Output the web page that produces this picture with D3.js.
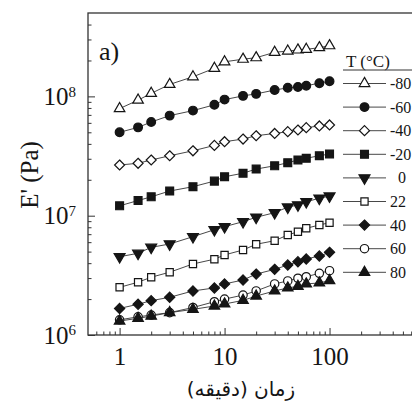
<!DOCTYPE html>
<html>
<head>
<meta charset="utf-8">
<script src="https://cdn.jsdelivr.net/npm/d3@7"></script>
<style>
  html, body { margin: 0; padding: 0; background: #fff; overflow: hidden; }
  svg { display: block; }
</style>
</head>
<body>
<div id="plot"></div>
<script>
(() => {
'use strict';

// time in minutes (x) and E' in Pa for each temperature
const times = [1, 1.5, 2, 3, 5, 8, 10, 15, 20, 30, 40, 50, 60, 80, 100];

const temps = ['-80', '-60', '-40', '-20', '0', '22', '40', '60', '80'];

const eMinus80 = [7.9e7, 9.3e7, 1.06e8, 1.26e8, 1.46e8, 1.72e8, 1.95e8, 2.05e8, 2.11e8, 2.34e8, 2.40e8, 2.45e8, 2.48e8, 2.56e8, 2.66e8];
const eMinus60 = [5.0e7, 5.5e7, 6.1e7, 6.9e7, 7.6e7, 8.5e7, 9.4e7, 1.01e8, 1.05e8, 1.13e8, 1.18e8, 1.20e8, 1.23e8, 1.29e8, 1.34e8];
const eMinus40 = [2.66e7, 2.75e7, 2.93e7, 3.18e7, 3.5e7, 3.88e7, 4.17e7, 4.39e7, 4.68e7, 4.89e7, 5.06e7, 5.23e7, 5.47e7, 5.65e7, 5.76e7];
const eMinus20 = [1.21e7, 1.34e7, 1.44e7, 1.61e7, 1.75e7, 1.95e7, 2.12e7, 2.27e7, 2.46e7, 2.62e7, 2.78e7, 2.93e7, 3.03e7, 3.18e7, 3.29e7];
const e0 = [4.53e6, 4.84e6, 5.43e6, 5.79e6, 6.67e6, 7.63e6, 8.09e6, 8.91e6, 9.7e6, 1.06e7, 1.18e7, 1.23e7, 1.31e7, 1.40e7, 1.46e7];
const e22 = [2.51e6, 2.77e6, 3.05e6, 3.36e6, 3.94e6, 4.32e6, 4.69e6, 5.16e6, 5.76e6, 6.17e6, 6.89e6, 7.34e6, 7.84e6, 8.36e6, 8.74e6];
const e40 = [1.67e6, 1.81e6, 1.94e6, 2.07e6, 2.34e6, 2.48e6, 2.68e6, 2.89e6, 3.24e6, 3.55e6, 3.86e6, 4.11e6, 4.34e6, 4.59e6, 4.93e6];
const e60 = [1.34e6, 1.42e6, 1.47e6, 1.54e6, 1.70e6, 1.90e6, 2.0e6, 2.16e6, 2.34e6, 2.68e6, 2.84e6, 2.99e6, 3.08e6, 3.29e6, 3.46e6];
const e80 = [1.31e6, 1.38e6, 1.44e6, 1.54e6, 1.64e6, 1.75e6, 1.82e6, 1.95e6, 2.12e6, 2.34e6, 2.48e6, 2.56e6, 2.68e6, 2.73e6, 2.86e6];

const seriesValues = [eMinus80, eMinus60, eMinus40, eMinus20, e0, e22, e40, e60, e80];

const xTickValues = [1, 10, 100, 1000];
const yTickValues = [1e6, 1e7, 1e8];
const yTickExp = ['6', '7', '8'];

const WIDTH = 412;
const HEIGHT = 408;
const LEFT = 88;
const BOTTOM = 335;
const INK = '#151515';
const SERIF = '"Liberation Serif", "DejaVu Serif", serif';

// marker shapes
const diamond = {
  draw(ctx, size) {
    const r = Math.sqrt(size / 2);
    ctx.moveTo(0, -r); ctx.lineTo(r, 0); ctx.lineTo(0, r); ctx.lineTo(-r, 0); ctx.closePath();
  }
};
const markers = [
  { type: d3.symbolTriangle, fill: false, size: 48, rot: 0 },
  { type: d3.symbolCircle, fill: true, size: 60, rot: 0 },
  { type: diamond, fill: false, size: 50, rot: 0 },
  { type: d3.symbolSquare, fill: true, size: 62, rot: 0 },
  { type: d3.symbolTriangle, fill: true, size: 52, rot: 180 },
  { type: d3.symbolSquare, fill: false, size: 52, rot: 0 },
  { type: diamond, fill: true, size: 52, rot: 0 },
  { type: d3.symbolCircle, fill: false, size: 55, rot: 0 },
  { type: d3.symbolTriangle, fill: true, size: 48, rot: 0 }
];

const SVG = d3.select('#plot')
  .append('svg')
  .attr('width', WIDTH)
  .attr('height', HEIGHT)
  .style('font-family', SERIF);

const xScale = d3.scaleLog().domain([0.5, 1000]).range([LEFT, 434.5]);
const yScale = d3.scaleLog().domain([1e6, 5e8]).range([BOTTOM, 13]);

const minorOf = (lo, hi) => {
  const out = [];
  for (let p = lo; p < hi; p *= 10) {
    for (let k = 2; k < 10; k++) out.push(p * k);
  }
  return out;
};
const xMinor = minorOf(0.1, 1000).filter(v => v > 0.5 && v < 1000);
const yMinor = minorOf(1e6, 1e9).filter(v => v < 5e8);

// frame
SVG.append('rect')
  .attr('x', LEFT)
  .attr('y', yScale.range()[1])
  .attr('width', xScale.range()[1] - LEFT)
  .attr('height', BOTTOM - yScale.range()[1])
  .attr('fill', 'none')
  .attr('stroke', '#333')
  .attr('stroke-width', 1.3);

const styleAxis = (g) => {
  g.attr('font-family', null);
  g.select('.domain').remove();
  g.selectAll('line').attr('stroke', '#333').attr('stroke-width', 1);
};

// minor ticks
SVG.append('g')
  .attr('transform', `translate(0, ${BOTTOM})`)
  .call(d3.axisBottom(xScale).tickValues(xMinor).tickSize(-3.5).tickFormat(''))
  .call(styleAxis);
SVG.append('g')
  .attr('transform', `translate(${LEFT}, 0)`)
  .call(d3.axisLeft(yScale).tickValues(yMinor).tickSize(-3.5).tickFormat(''))
  .call(styleAxis);

// major ticks + labels
SVG.append('g')
  .attr('id', 'x-axis')
  .attr('transform', `translate(0, ${BOTTOM})`)
  .call(d3.axisBottom(xScale).tickValues(xTickValues).tickSize(-7).tickPadding(12)
    .tickFormat(d => d < 1000 ? String(d) : ''))
  .call(styleAxis)
  .selectAll('text')
    .attr('fill', INK)
    .style('font-size', '25px')
    .style('font-family', SERIF);

const yAxisG = SVG.append('g')
  .attr('id', 'y-axis')
  .attr('transform', `translate(${LEFT}, 0)`)
  .call(d3.axisLeft(yScale).tickValues(yTickValues).tickSize(-7).tickPadding(12).tickFormat(''))
  .call(styleAxis);

yAxisG.selectAll('.tick text')
  .attr('fill', INK)
  .style('font-size', '25px')
  .style('font-family', SERIF)
  .each(function (d, i) {
    const t = d3.select(this);
    t.append('tspan').text('10');
    t.append('tspan').attr('dy', '-0.55em').style('font-size', '15px').text(yTickExp[i]);
  });

// lines and markers
const line = d3.line()
  .x((d, i) => xScale(times[i]))
  .y(d => yScale(d));

const symbolPath = (m) => d3.symbol().type(m.type).size(m.size)();

seriesValues.forEach((vals, s) => {
  const m = markers[s];
  const g = SVG.append('g').attr('class', `series series-${s}`);
  g.append('path')
    .datum(vals)
    .attr('d', line)
    .attr('fill', 'none')
    .attr('stroke', '#333')
    .attr('stroke-width', 0.9);
  g.selectAll('path.dot')
    .data(vals)
    .enter()
    .append('path')
      .attr('class', 'dot')
      .attr('d', symbolPath(m))
      .attr('transform', (d, i) => `translate(${xScale(times[i])}, ${yScale(d)}) rotate(${m.rot})`)
      .attr('fill', m.fill ? INK : '#fff')
      .attr('stroke', INK)
      .attr('stroke-width', 1.2);
});

// panel letter
SVG.append('text')
  .attr('x', 99)
  .attr('y', 60)
  .attr('fill', INK)
  .style('font-size', '26px')
  .text('a)');

// axis titles
SVG.append('text')
  .attr('transform', 'translate(38, 175) rotate(-90)')
  .attr('text-anchor', 'middle')
  .attr('fill', INK)
  .style('font-size', '25px')
  .text('E\' (Pa)');

SVG.append('text')
  .attr('x', 241)
  .attr('y', 396)
  .attr('text-anchor', 'middle')
  .attr('fill', INK)
  .style('font-size', '20px')
  .style('font-family', '"DejaVu Sans", sans-serif')
  .text('زمان (دقیقه)');

// legend
const LEGEND_X = 343;
const LEGEND_Y = 83.5;
const LEGEND_STEP = 23.6;

SVG.append('text')
  .attr('x', 346)
  .attr('y', 67)
  .attr('fill', INK)
  .style('font-size', '17px')
  .text('T (°C)');

SVG.append('line')
  .attr('x1', LEGEND_X)
  .attr('x2', WIDTH)
  .attr('y1', 70)
  .attr('y2', 70)
  .attr('stroke', '#333')
  .attr('stroke-width', 1);

const legend = SVG.selectAll('.legend')
  .data(temps)
  .enter()
  .append('g')
    .attr('class', 'legend')
    .attr('transform', (d, i) => `translate(${LEGEND_X}, ${LEGEND_Y + i * LEGEND_STEP})`);

legend.append('line')
  .attr('x1', 0)
  .attr('x2', 43)
  .attr('stroke', '#333')
  .attr('stroke-width', 0.9);

legend.append('path')
  .attr('d', (d, i) => symbolPath(markers[i]))
  .attr('transform', (d, i) => `translate(21.5, 0) rotate(${markers[i].rot})`)
  .attr('fill', (d, i) => markers[i].fill ? INK : '#fff')
  .attr('stroke', INK)
  .attr('stroke-width', 1.2);

legend.append('text')
  .attr('x', d => d === '0' ? 55 : 47)
  .attr('y', 5.5)
  .attr('fill', INK)
  .style('font-size', '16px')
  .text(d => d);

})();
</script>
</body>
</html>
